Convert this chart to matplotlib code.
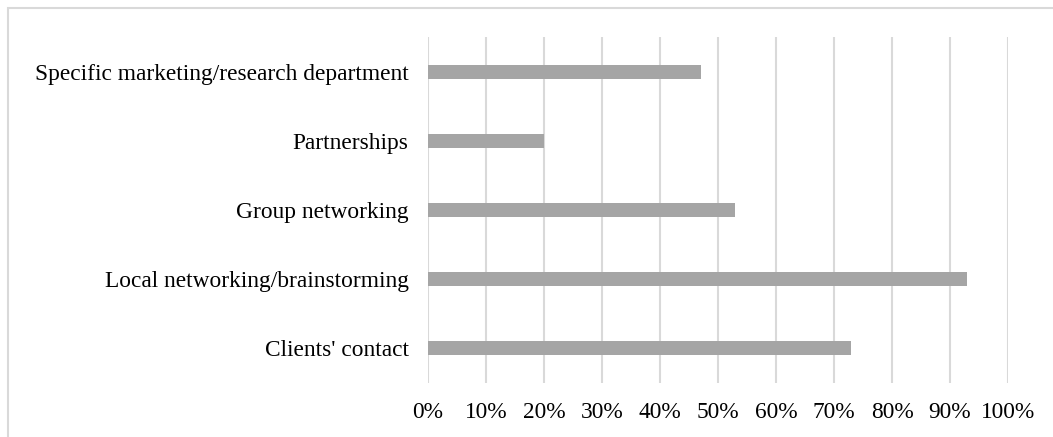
import matplotlib.pyplot as plt
from matplotlib.patches import Rectangle

categories = ["Clients' contact", "Local networking/brainstorming", "Group networking",
              "Partnerships", "Specific marketing/research department"]
values = [0.73, 0.93, 0.53, 0.20, 0.47]
xticks = [i / 10 for i in range(11)]
xticklabels = [f"{i * 10}%" for i in range(11)]


def main():
    plt.rcParams['font.family'] = ['Liberation Serif', 'DejaVu Serif']
    fig = plt.figure(figsize=(10.53, 4.37), dpi=100)
    ax = fig.add_axes([428 / 1053, 1 - 383 / 437, 580 / 1053, 346 / 437])

    ys = range(len(categories))
    ax.barh(ys, values, height=0.2, color="#A5A5A5", zorder=3)

    ax.set_xlim(0, 1)
    ax.set_ylim(-0.5, len(categories) - 0.5)
    ax.set_xticks(xticks)
    ax.set_xticklabels(xticklabels)
    ax.set_yticks(list(ys))
    ax.set_yticklabels(categories)
    ax.tick_params(axis="both", length=0, labelsize=16.8, colors="black")
    ax.tick_params(axis="x", pad=14)
    ax.tick_params(axis="y", pad=14)

    # vertical gridlines only
    ax.grid(axis="x", color="#D9D9D9", linewidth=1.5, zorder=0)
    for s in ax.spines.values():
        s.set_visible(False)

    # chart border (right/bottom edges fall outside the image)
    fig.patches.append(Rectangle((7.5 / 1053, -0.1), 1.2, 1 - 7.5 / 437 + 0.1,
                                 transform=fig.transFigure, fill=False,
                                 edgecolor="#D9D9D9", linewidth=1.5))

    fig.savefig("out.png", dpi=100)


if __name__ == "__main__":
    main()
